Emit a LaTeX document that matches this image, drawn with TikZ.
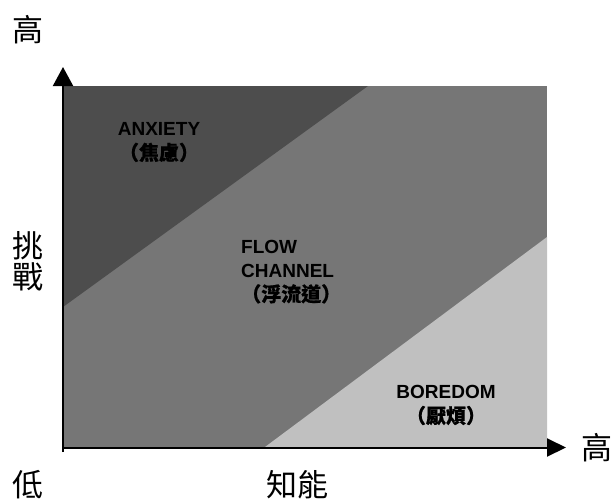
\documentclass[tikz,border=0pt]{standalone}
\usepackage{fontspec}
\setmainfont{Liberation Sans}
\newfontfamily\cjk{Noto Sans CJK TC}
\newfontfamily\cjkb{Noto Sans CJK TC}[FakeBold=0.6]
\usetikzlibrary{arrows.meta}
\definecolor{darkreg}{HTML}{4D4D4D}
\definecolor{midreg}{HTML}{767676}
\definecolor{lightreg}{HTML}{C0C0C0}
\newcommand{\cjkpar}[1]{{\cjkb\fontsize{20}{20}\selectfont #1}}
\tikzset{
  axislabel/.style={inner sep=0pt, font=\cjk\fontsize{31}{31}\selectfont},
  zonelabel/.style={inner sep=0pt, align=center, font=\bfseries\fontsize{19}{24}\selectfont},
  axisline/.style={line width=2pt, black},
}
\begin{document}
\begin{tikzpicture}[x=1pt,y=-1pt]
\useasboundingbox (0,0) rectangle (616,501);
% regions
\fill[midreg] (63,86) rectangle (547,447);
\fill[darkreg] (63,86) -- (368,86) -- (63,307) -- cycle;
\fill[lightreg] (265,447) -- (547,237) -- (547,447) -- cycle;
% axes
\coordinate (ybot) at (63,452);
\coordinate (ytop) at (63,67);
\coordinate (xleft) at (62,447.5);
\coordinate (xright) at (566,447.5);
\draw[axisline, -{Triangle[width=20pt,length=19pt]}] (ybot) -- (ytop);
\draw[axisline, -{Triangle[width=18pt,length=19pt]}] (xleft) -- (xright);
% axis labels
\node[axislabel] (hiy) at (28,30) {高};
\node[axislabel] (tiao) at (28,246) {挑};
\node[axislabel] (zhan) at (28,277) {戰};
\node[axislabel] (low) at (28,485) {低};
\node[axislabel] (skill) at (297,485) {知能};
\node[axislabel] (hix) at (597,448) {高};
% zone labels
\node[zonelabel] (anx) at (159,142) {ANXIETY\\[1pt]\cjkpar{（焦慮）}};
\node[zonelabel, align=left, anchor=north west] (flow) at (241,240) {FLOW\\CHANNEL\\\cjkpar{（浮流道）}};
\node[zonelabel] (bore) at (446,405) {BOREDOM\\[1pt]\cjkpar{（厭煩）}};
\end{tikzpicture}
\end{document}
